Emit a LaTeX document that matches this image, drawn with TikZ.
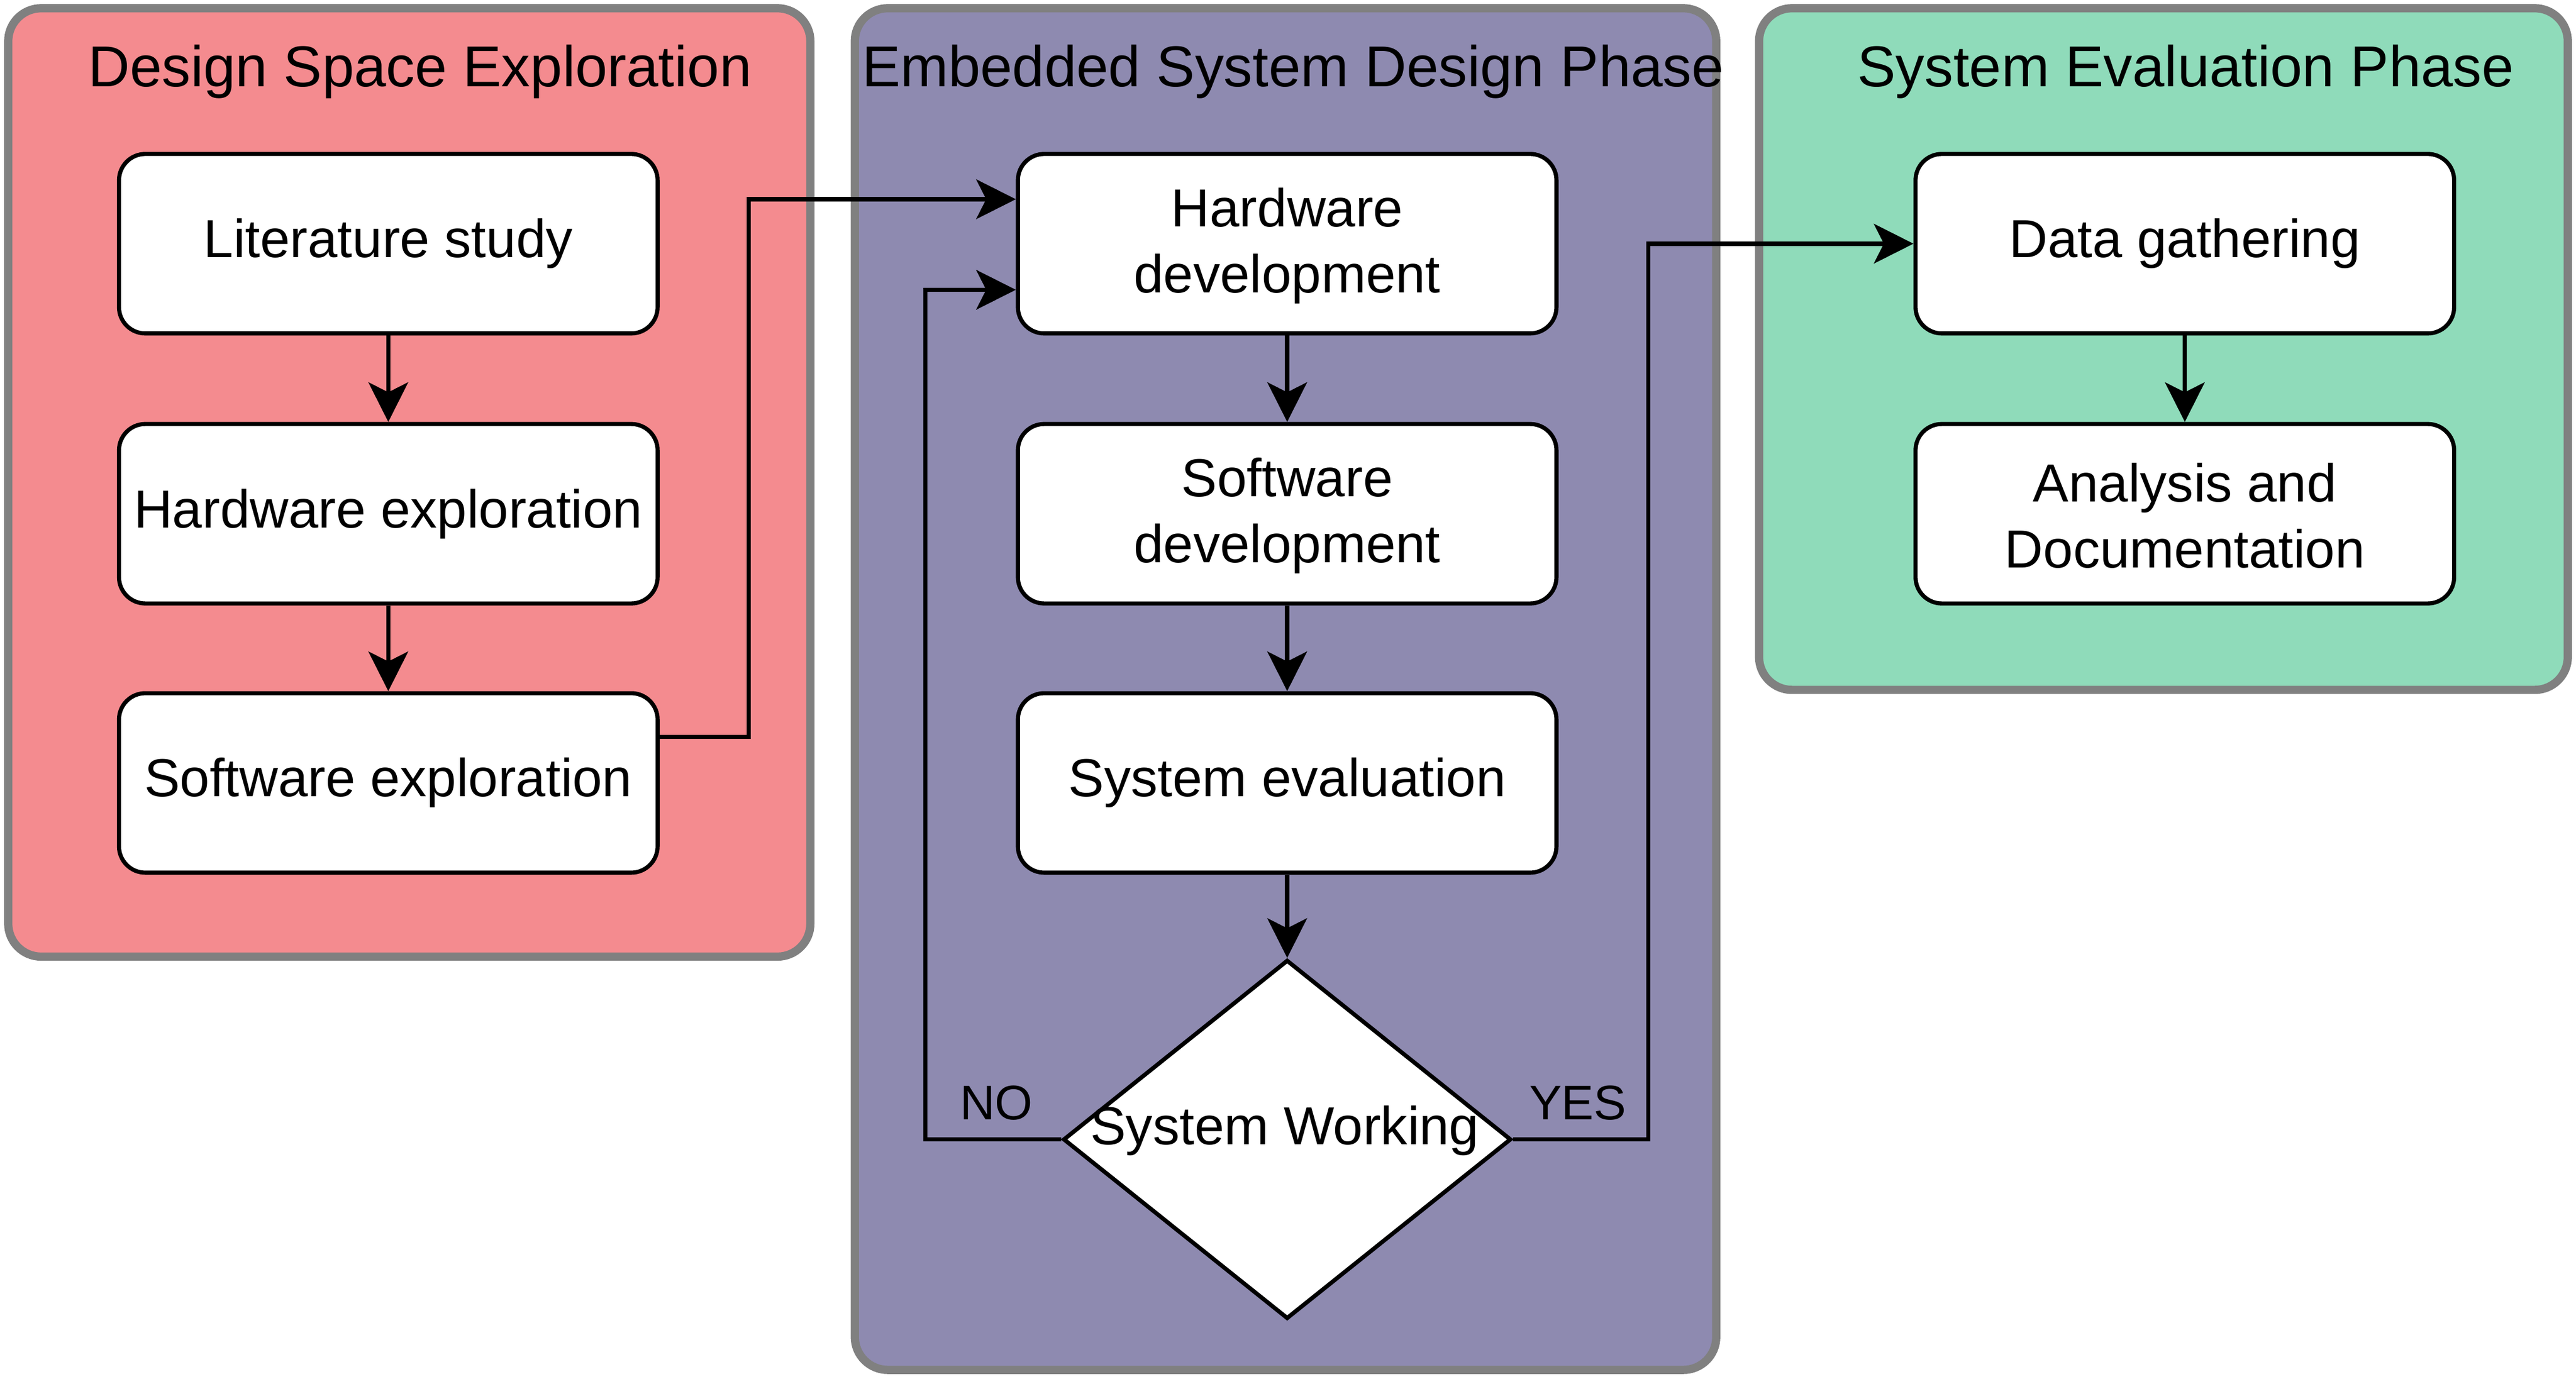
\documentclass[tikz,border=0pt]{standalone}
\usepackage{fontspec}
\setmainfont{Liberation Sans}
\usetikzlibrary{arrows.meta,shapes.geometric}
\definecolor{redfill}{HTML}{F48B8F}
\definecolor{purfill}{HTML}{8E8AB0}
\definecolor{grnfill}{HTML}{8FDBBA}
\definecolor{panelline}{HTML}{808080}
\tikzset{
  panel/.style={draw=panelline, line width=5pt, rounded corners=20pt},
  paneltitle/.style={anchor=base, font=\fontsize{35}{42}\selectfont, inner sep=0pt},
  stepbox/.style={draw, fill=white, line width=2.5pt, rounded corners=16pt,
    minimum width=327pt, minimum height=109pt, align=center,
    font=\fontsize{32.5}{40}\selectfont, inner sep=0pt},
  decision/.style={diamond, draw, fill=white, line width=2.5pt,
    minimum width=272pt, minimum height=218pt, inner sep=0pt},
  conn/.style={line width=2.6pt, -{Stealth[length=24pt,width=24pt,inset=6pt]}},
  edgelabel/.style={anchor=base, font=\fontsize{29.5}{36}\selectfont, inner sep=0pt},
  dialabel/.style={anchor=base, font=\fontsize{32.5}{40}\selectfont, inner sep=0pt}
}
\begin{document}
\begin{tikzpicture}[x=1pt,y=-1pt]
\useasboundingbox (0,0) rectangle (1564,840.5);
% panels
\draw[panel, fill=redfill] (5,5) rectangle (492,581);
\draw[panel, fill=purfill] (519,5) rectangle (1042,832);
\draw[panel, fill=grnfill] (1068,5) rectangle (1559,419);
% titles
\node[paneltitle] (t1) at (255,52.6) {Design Space Exploration};
\node[paneltitle] (t2) at (785,52.6) {Embedded System Design Phase};
\node[paneltitle] (t3) at (1327,52.6) {System Evaluation Phase};
% red column
\node[stepbox] (lit) at (235.75,148) {Literature study};
\node[stepbox] (hwx) at (235.75,312) {Hardware exploration};
\node[stepbox] (swx) at (235.75,475.5) {Software exploration};
% purple column
\node[stepbox] (hwd) at (781.5,148) {\rule{0pt}{26pt}Hardware\\development};
\node[stepbox] (swd) at (781.5,312) {\rule{0pt}{26pt}Software\\development};
\node[stepbox] (sev) at (781.5,475.5) {System evaluation};
\node[decision] (dia) at (781.5,692) {};
\node[dialabel] (diat) at (780,695) {System Working};
% green column
\node[stepbox] (dg) at (1326.5,148) {Data gathering};
\node[stepbox] (ad) at (1326.5,312) {\rule{0pt}{26pt}Analysis and\\Documentation};
% connectors
\draw[conn] (lit.south) -- (hwx.north);
\draw[conn] (hwx.south) -- (swx.north);
\draw[conn] ([yshift=28pt]swx.east) -- ++(54,0) |- ([yshift=27pt]hwd.west);
\draw[conn] (hwd.south) -- (swd.north);
\draw[conn] (swd.south) -- (sev.north);
\draw[conn] (sev.south) -- (dia.north);
\draw[conn] (dia.west) -- ++(-82.5,0) |- ([yshift=-28pt]hwd.west);
\draw[conn] (dia.east) -- ++(82,0) |- (dg.west);
\draw[conn] (dg.south) -- (ad.north);
% edge labels
\node[edgelabel] (no) at (605,680) {NO};
\node[edgelabel] (yes) at (958,680) {YES};
\end{tikzpicture}
\end{document}
